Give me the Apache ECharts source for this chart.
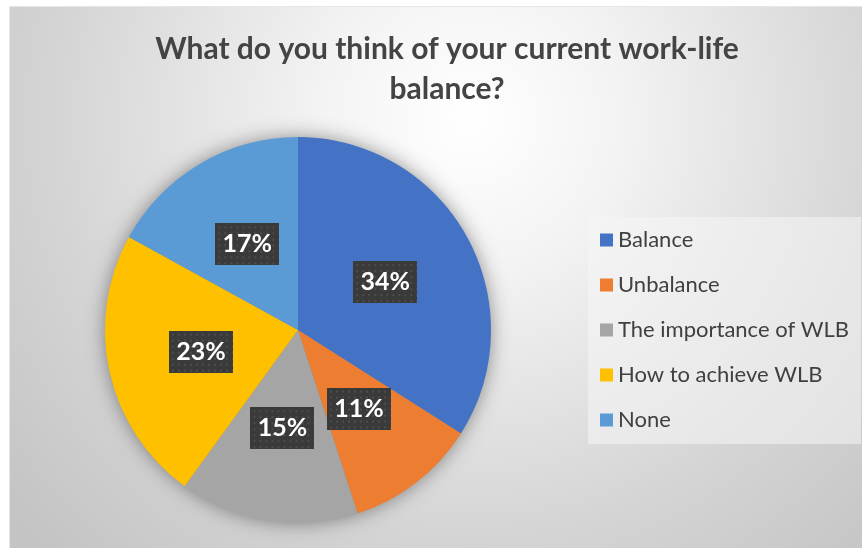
<!DOCTYPE html>
<html>
<head>
<meta charset="utf-8">
<script src="https://cdn.jsdelivr.net/npm/echarts@6/dist/echarts.min.js"></script>
<style>
  html, body { margin: 0; padding: 0; background: #ffffff; }
  #chart { width: 862px; height: 548px; }
</style>
</head>
<body>
<div id="chart"></div>
<script>
// Survey answers and their shares (%)
const categories = ['Balance', 'Unbalance', 'The importance of WLB', 'How to achieve WLB', 'None'];
const shares = [34, 11, 15, 23, 17];
const sliceColors = ['#4472C4', '#ED7D31', '#A5A5A5', '#FFC000', '#5B9BD5'];
const titleText = 'What do you think of your current work-life\nbalance?';

// Dark dotted fill used behind the percentage labels
function dottedTile(w, h) {
  const c = document.createElement('canvas');
  c.width = w; c.height = h;
  const g = c.getContext('2d');
  g.fillStyle = '#3a3a3a';
  g.fillRect(0, 0, w, h);
  g.fillStyle = '#4d4d4d';
  for (let y = 3; y < h; y += 6) {
    for (let x = 3; x < w; x += 6) g.fillRect(x, y, 2, 2);
  }
  return c;
}
const LABEL_W = 64, LABEL_H = 42;
const labelTile = dottedTile(LABEL_W, LABEL_H);

const pieData = categories.map((name, i) => ({
  name: name,
  value: shares[i],
  itemStyle: { color: sliceColors[i] }
}));

const chart = echarts.init(document.getElementById('chart'), null, { renderer: 'canvas' });
chart.setOption({
  backgroundColor: '#ffffff',
  animation: false,
  graphic: [{
    type: 'rect',
    z: -10,
    shape: { x: 9.5, y: 6.5, width: 870, height: 560 },
    style: {
      fill: {
        type: 'radial', x: 470, y: 120, r: 600, global: true,
        colorStops: [
          { offset: 0, color: '#ffffff' },
          { offset: 0.25, color: '#f3f3f3' },
          { offset: 0.7, color: '#d4d4d4' },
          { offset: 1, color: '#c4c4c4' }
        ]
      },
      stroke: '#e6e6e6',
      lineWidth: 1
    }
  }],
  title: {
    text: titleText,
    left: 442,
    textAlign: 'center',
    top: 24,
    textStyle: {
      fontFamily: 'Lato',
      fontWeight: 'bold',
      fontSize: 30,
      lineHeight: 40,
      color: '#444444'
    }
  },
  legend: {
    orient: 'vertical',
    left: 588,
    top: 217,
    padding: [11, 12, 12, 12],
    backgroundColor: 'rgba(245,245,245,0.55)',
    itemWidth: 13,
    itemHeight: 13,
    itemGap: 21,
    icon: 'rect',
    selectedMode: false,
    data: categories,
    textStyle: {
      fontFamily: 'Lato',
      fontSize: 22,
      lineHeight: 24,
      color: '#404040'
    }
  },
  series: [
    {
      // soft shadow under the whole pie
      type: 'pie',
      silent: true,
      z: 1,
      center: [298, 330],
      radius: 192,
      label: { show: false },
      labelLine: { show: false },
      itemStyle: {
        color: '#888888',
        shadowBlur: 20,
        shadowColor: 'rgba(0,0,0,0.45)'
      },
      data: [{ value: 1, name: '' }]
    },
    {
      type: 'pie',
      z: 2,
      center: [298, 330],
      radius: 193,
      startAngle: 90,
      clockwise: true,
      itemStyle: { borderWidth: 0 },
      label: {
        show: true,
        position: 'inside',
        formatter: '{c}%',
        fontFamily: 'Lato',
        fontWeight: 'bold',
        fontSize: 25,
        color: '#ffffff',
        width: LABEL_W,
        height: LABEL_H,
        lineHeight: LABEL_H,
        align: 'center',
        verticalAlign: 'middle',
        backgroundColor: { image: labelTile },
        shadowColor: 'rgba(0,0,0,0.45)',
        shadowBlur: 6,
        shadowOffsetX: 3,
        shadowOffsetY: 3
      },
      labelLine: { show: false },
      data: pieData
    }
  ]
});
</script>
</body>
</html>
